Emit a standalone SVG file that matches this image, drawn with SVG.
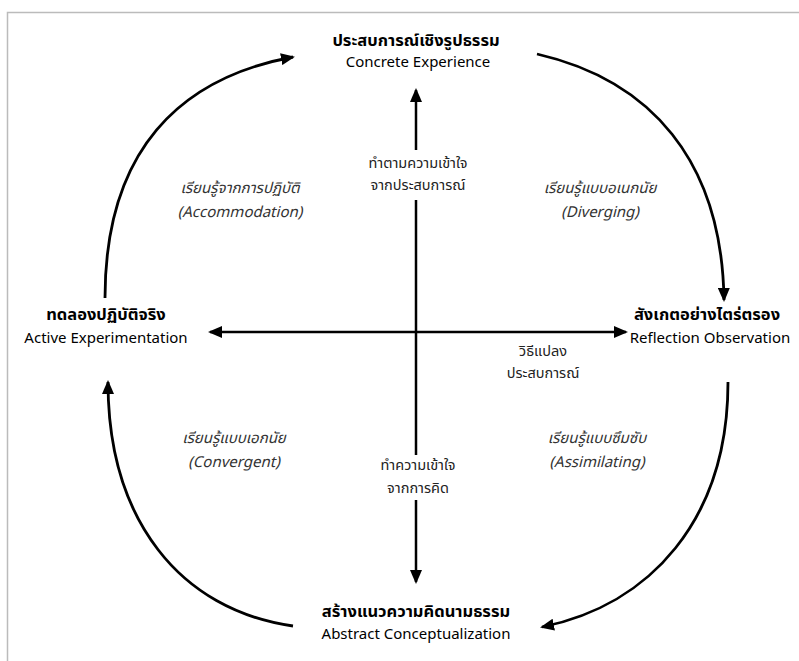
<svg xmlns="http://www.w3.org/2000/svg" width="799" height="661" viewBox="0 0 799 661">
<style>
text{font-family:"Noto Sans Thai","Noto Sans","Open Sans",sans-serif;fill:#000;text-anchor:middle}
.th{font-size:16.5px;font-weight:bold}
.en{font-size:15px}
.it{font-size:15px;font-style:italic;fill:#333}
.c{font-size:14.5px;fill:#222}
.ax{stroke:#000;stroke-width:2.5;fill:none}
.arc{stroke:#000;stroke-width:2.8;fill:none}
</style>
<defs>
<marker id="ah" viewBox="0 0 14 12" refX="12" refY="6" markerWidth="14" markerHeight="12" markerUnits="userSpaceOnUse" orient="auto">
<path d="M0,0 L14,6 L0,12 z" fill="#000"/>
</marker>
</defs>
<rect width="799" height="661" fill="#fff"/>
<path d="M7.5,661 V12.5 H799" fill="none" stroke="#bbb" stroke-width="1.5"/>
<g id="connectors">
<path class="arc" d="M105,298 C105,150 180,78 293,57" marker-end="url(#ah)"/>
<path class="arc" d="M537,54 C650,80 722,160 724,300" marker-end="url(#ah)"/>
<path class="arc" d="M728,382 C728,520 650,605 542,627" marker-end="url(#ah)"/>
<path class="arc" d="M293,626 C180,610 108,520 108,382" marker-end="url(#ah)"/>
<path class="ax" d="M416,150 V90" marker-end="url(#ah)"/>
<path class="ax" d="M416,200 V455"/>
<path class="ax" d="M416,500 V582" marker-end="url(#ah)"/>
<path class="ax" d="M416,332 H210" marker-end="url(#ah)"/>
<path class="ax" d="M416,332 H626" marker-end="url(#ah)"/>
</g>
<g id="concrete"><text class="th" x="416" y="46">ประสบการณ์เชิงรูปธรรม</text><text class="en" x="418" y="67">Concrete Experience</text></g>
<g id="active"><text class="th" x="106" y="320">ทดลองปฏิบัติจริง</text><text class="en" x="106" y="343">Active Experimentation</text></g>
<g id="reflection"><text class="th" x="707" y="320">สังเกตอย่างไตร่ตรอง</text><text class="en" x="710" y="343">Reflection Observation</text></g>
<g id="abstract"><text class="th" x="416" y="617">สร้างแนวความคิดนามธรรม</text><text class="en" x="416" y="639">Abstract Conceptualization</text></g>
<g id="accommodation"><text class="it" x="240" y="193">เรียนรู้จากการปฏิบัติ</text><text class="it" x="240" y="217">(Accommodation)</text></g>
<g id="diverging"><text class="it" x="600" y="193">เรียนรู้แบบอเนกนัย</text><text class="it" x="600" y="217">(Diverging)</text></g>
<g id="convergent"><text class="it" x="234" y="443">เรียนรู้แบบเอกนัย</text><text class="it" x="234" y="467">(Convergent)</text></g>
<g id="assimilating"><text class="it" x="597" y="443">เรียนรู้แบบซึมซับ</text><text class="it" x="597" y="467">(Assimilating)</text></g>
<g id="top-label"><text class="c" x="418" y="168">ทำตามความเข้าใจ</text><text class="c" x="418" y="190">จากประสบการณ์</text></g>
<g id="bottom-label"><text class="c" x="418" y="470">ทำความเข้าใจ</text><text class="c" x="418" y="493">จากการคิด</text></g>
<g id="right-label"><text class="c" x="543" y="356">วิธีแปลง</text><text class="c" x="543" y="378">ประสบการณ์</text></g>
</svg>
